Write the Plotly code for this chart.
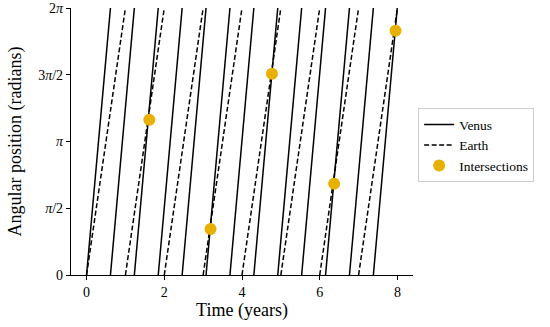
import math
import plotly.graph_objects as go

# Times (years) at which each planet's angular position wraps from 2π back to 0
venus_wrap_times = [0, 0.615, 1.23, 1.845, 2.46, 3.075, 3.69, 4.305, 4.92,
                    5.535, 6.15, 6.765, 7.38, 7.995]
earth_wrap_times = [0, 1, 2, 3, 4, 5, 6, 7, 8]

# Intersection points
intersect_t = [1.615, 3.19, 4.77, 6.37, 7.95]
intersect_angle_over_pi = [1.163, 0.345, 1.508, 0.683, 1.83]

ytick_vals_over_pi = [0, 0.5, 1, 1.5, 2]
ytick_text = ["0", "<i>π</i>/2", "<i>π</i>", "3<i>π</i>/2", "2<i>π</i>"]
xtick_vals = [0, 2, 4, 6, 8]

TWO_PI = 2 * math.pi


def sawtooth(wraps):
    xs, ys = [], []
    for a, b in zip(wraps[:-1], wraps[1:]):
        xs += [a, b, None]
        ys += [0, TWO_PI, None]
    return xs, ys


vx, vy = sawtooth(venus_wrap_times)
ex, ey = sawtooth(earth_wrap_times)

FONT = "Liberation Serif"

fig = go.Figure()
fig.add_trace(go.Scatter(x=vx, y=vy, mode="lines", name="Venus",
                         line=dict(color="black", width=1.5)))
fig.add_trace(go.Scatter(x=ex, y=ey, mode="lines", name="Earth",
                         line=dict(color="black", width=1.5, dash="5px,2.5px")))
fig.add_trace(go.Scatter(x=intersect_t,
                         y=[v * math.pi for v in intersect_angle_over_pi],
                         mode="markers", name="Intersections",
                         marker=dict(color="#e8b000", size=12)))

fig.update_layout(
    width=550, height=327,
    margin=dict(l=71, r=137, t=8, b=52),
    plot_bgcolor="white", paper_bgcolor="white",
    font=dict(family=FONT, size=14, color="black"),
    showlegend=True,
    legend=dict(x=1.015, y=0.625, xanchor="left", yanchor="top",
                bordercolor="#cccccc", borderwidth=1,
                font=dict(family=FONT, size=13.5), tracegroupgap=0),
    xaxis=dict(range=[-0.4, 8.4], tickvals=xtick_vals, showgrid=False,
               zeroline=False, showline=True, linecolor="black", linewidth=1.2,
               ticks="outside", ticklen=4, tickwidth=1.2, tickcolor="black",
               tickfont=dict(size=14), automargin=False,
               title=dict(text="Time (years)", font=dict(size=18), standoff=4)),
    yaxis=dict(range=[0, TWO_PI],
               tickvals=[v * math.pi for v in ytick_vals_over_pi],
               ticktext=ytick_text, showgrid=False, zeroline=False,
               showline=True, linecolor="black", linewidth=1.2,
               ticks="outside", ticklen=4, tickwidth=1.2, tickcolor="black",
               tickfont=dict(size=14), automargin=False,
               title=dict(text="Angular position (radians)", font=dict(size=18),
                          standoff=11)),
)

fig.write_html("out.html",
               config={"displayModeBar": False},
               post_script="document.body.style.margin='0';")
